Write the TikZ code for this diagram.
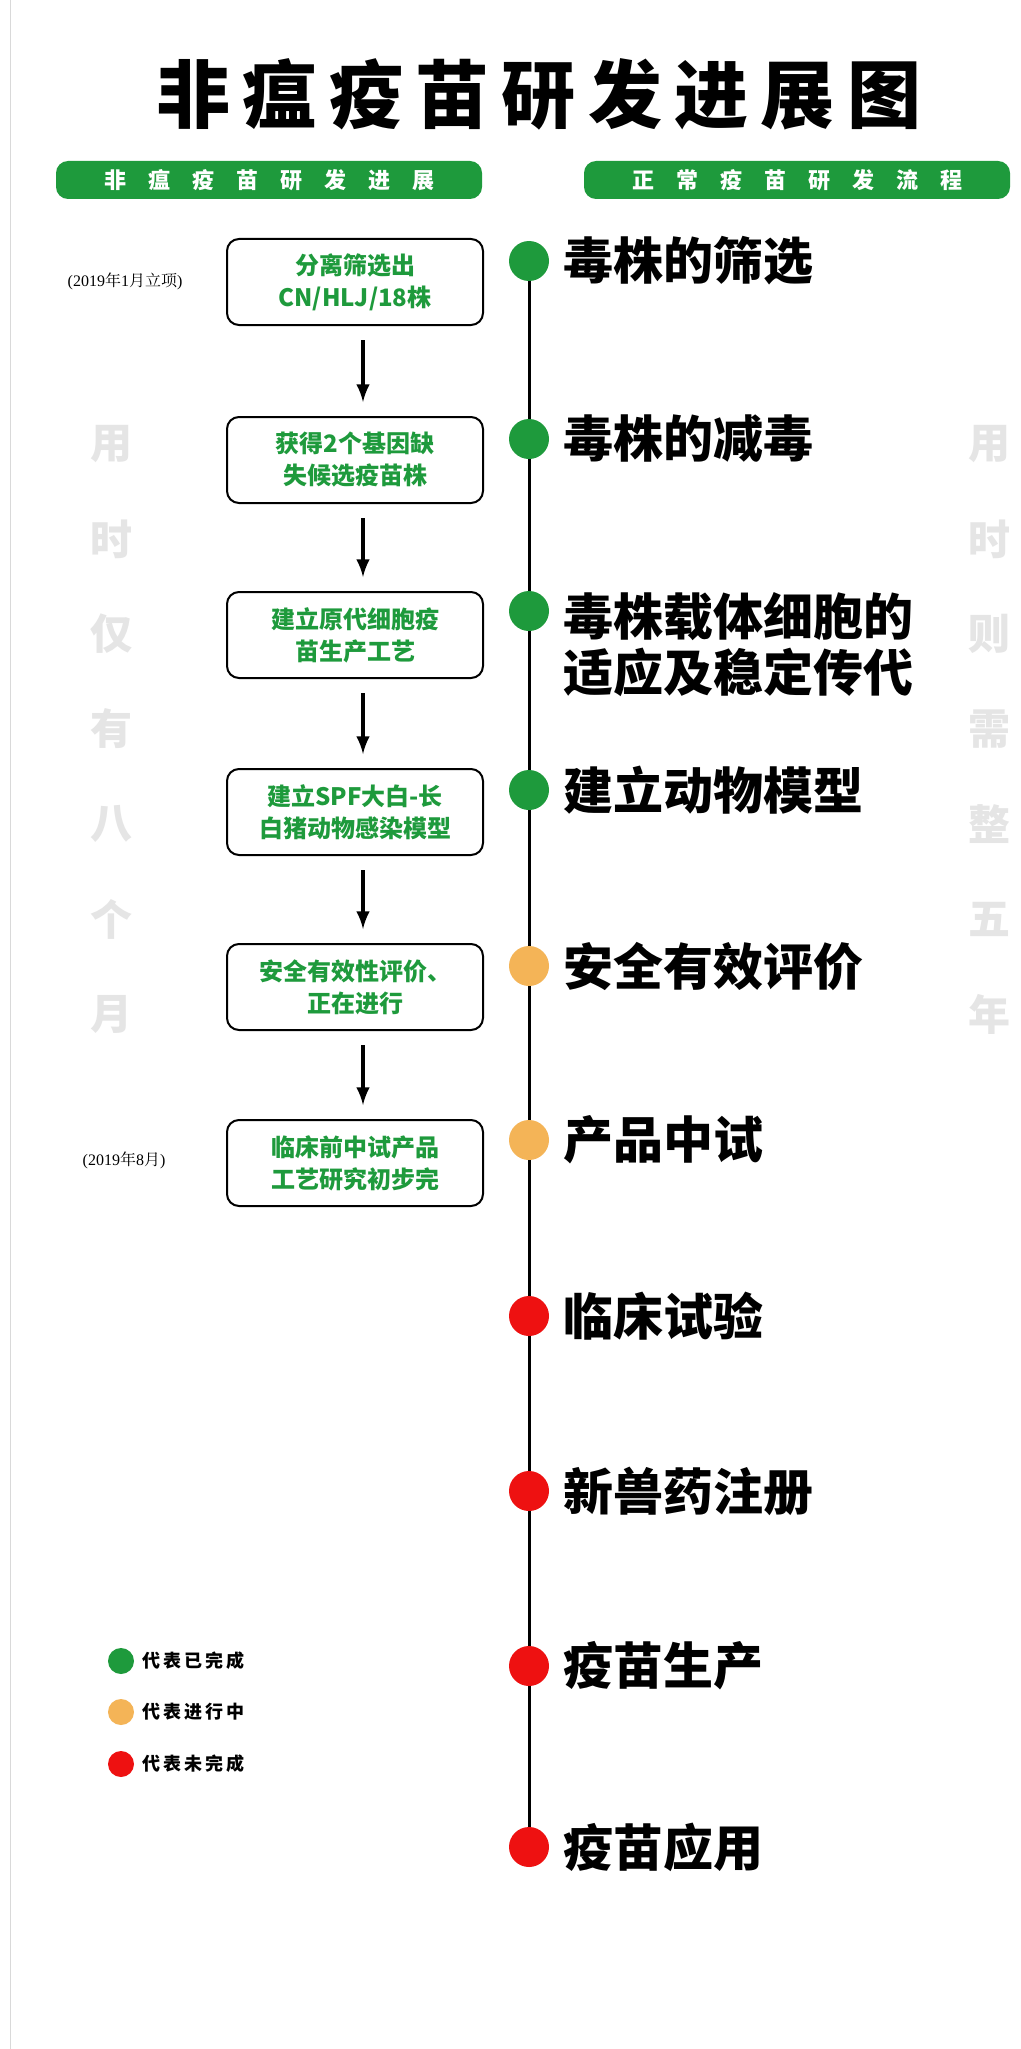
\documentclass[tikz,border=0pt]{standalone}
\usepackage{fontspec}
\newfontfamily\cjk{Noto Sans CJK SC}
\newfontfamily\cjkserif{Noto Serif CJK SC}
\setmainfont{Liberation Serif}
\definecolor{gr}{HTML}{1E9A3C}
\definecolor{og}{HTML}{F4B457}
\definecolor{rd}{HTML}{EE1111}
\begin{document}
\begin{tikzpicture}[x=0.5pt,y=-0.5pt,
 hdr/.style={fill=gr,rounded corners=6pt,minimum width=213pt,minimum height=19pt,text=white,font=\cjk\bfseries\fontsize{11}{11}\selectfont},
 stepbox/.style={draw=black,line width=1pt,rounded corners=6pt,minimum width=128pt,minimum height=43pt,align=center,text=gr,font=\cjk\bfseries\fontsize{12}{16}\selectfont},
 dot/.style={circle,minimum size=20pt,inner sep=0pt},
 lab/.style={anchor=west,font=\cjk\bfseries\fontsize{25}{28}\selectfont,align=left},
 ghost/.style={text=black!10,font=\cjk\bfseries\fontsize{21}{21}\selectfont},
 arr/.style={-latex,line width=2pt},
 leg/.style={anchor=west,font=\cjk\bfseries\fontsize{9}{9}\selectfont},
 note/.style={font=\fontsize{8}{8}\selectfont}]
\useasboundingbox (0,0) rectangle (1021,2049);
\fill[white] (0,0) rectangle (1021,2049);
\draw[black!15] (10,0) -- (10,2049);
\node[font=\cjk\bfseries\fontsize{37}{37}\selectfont] (title) at (539,94) {非\,瘟\,疫\,苗\,研\,发\,进\,展\,图};
\node[hdr] (hl) at (269,180) {非\quad 瘟\quad 疫\quad 苗\quad 研\quad 发\quad 进\quad 展};
\node[hdr] (hr) at (797,180) {正\quad 常\quad 疫\quad 苗\quad 研\quad 发\quad 流\quad 程};
\coordinate (top) at (529,261); \coordinate (bot) at (529,1847);
\draw[line width=1.5pt] (top) -- (bot);
\foreach \y/\c/\t [count=\i] in {261/gr/毒株的筛选,439/gr/毒株的减毒,611/gr/{},790/gr/建立动物模型,966/og/安全有效评价,1140/og/产品中试,1316/rd/临床试验,1491/rd/新兽药注册,1666/rd/疫苗生产,1847/rd/疫苗应用}{
 \node[dot,fill=\c] (d\i) at (529,\y) {};
 \node[lab] (l\i) at (556,\y) {\t};
}
\node[lab,anchor=north west] (l3b) at (556,585) {毒株载体细胞的\\适应及稳定传代};
\foreach \y/\t [count=\i] in {282/{分离筛选出\\CN/HLJ/18株},460/{获得2个基因缺\\失候选疫苗株},635/{建立原代细胞疫\\苗生产工艺},812/{建立SPF大白-长\\白猪动物感染模型},987/{安全有效性评价、\\正在进行},1163/{临床前中试产品\\工艺研究初步完}}{
 \node[stepbox] (b\i) at (355,\y) {\t};
}
\foreach \a/\b in {1/2,2/3,3/4,4/5,5/6}{\draw[arr] ([xshift=4pt,yshift=-7pt]b\a.south) -- ([xshift=4pt,yshift=7pt]b\b.north);}
\node[note] (n1) at (125,281) {(2019\cjkserif 年\rmfamily 1\cjkserif 月立项\rmfamily)};
\node[note] (n2) at (124,1160) {(2019\cjkserif 年\rmfamily 8\cjkserif 月\rmfamily)};
\foreach \ch [count=\i] in {用,时,仅,有,八,个,月}{\node[ghost] (gl\i) at (111,{444+95*(\i-1)}) {\ch};}
\foreach \ch [count=\i] in {用,时,则,需,整,五,年}{\node[ghost] (gr\i) at (989,{444+95*(\i-1)}) {\ch};}
\foreach \y/\c/\t [count=\i] in {1661/gr/代\,表\,已\,完\,成,1712/og/代\,表\,进\,行\,中,1764/rd/代\,表\,未\,完\,成}{
 \node[dot,fill=\c,minimum size=13pt] (k\i) at (121,\y) {};
 \node[leg] (kt\i) at (135,\y) {\t};
}
\end{tikzpicture}
\end{document}
